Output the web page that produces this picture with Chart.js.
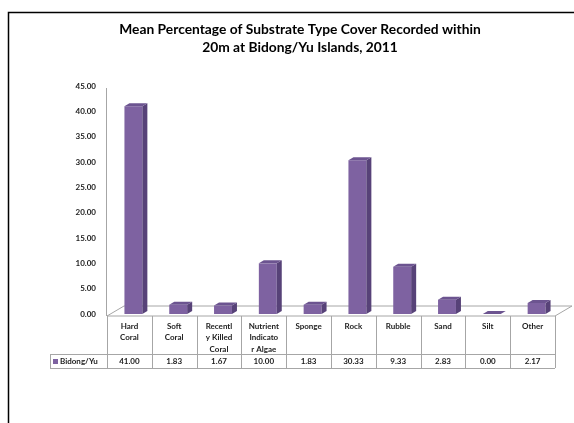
<!DOCTYPE html>
<html>
<head>
<meta charset="utf-8">
<script src="https://cdn.jsdelivr.net/npm/chart.js@4"></script>
<style>
  html, body { margin: 0; padding: 0; background: #fff; }
  #wrap { width: 574px; height: 423px; position: relative; }
</style>
</head>
<body>
<div id="wrap"><canvas id="substrateChart" width="574" height="423"></canvas></div>
<script>
// data
const categories = [
  ['Hard', 'Coral'], ['Soft', 'Coral'], ['Recentl', 'y Killed', 'Coral'],
  ['Nutrient', 'Indicato', 'r Algae'], ['Sponge'], ['Rock'], ['Rubble'],
  ['Sand'], ['Silt'], ['Other']
];
const seriesName = 'Bidong/Yu';
const values = [41.00, 1.83, 1.67, 10.00, 1.83, 30.33, 9.33, 2.83, 0.00, 2.17];
const yMin = 0;
const yMax = 45;
const yStep = 5;
const titleLines = ['Mean Percentage of Substrate Type Cover Recorded within', '20m at Bidong/Yu Islands, 2011'];

const FONT = 'Lato, "Open Sans", sans-serif';
const frontColor = '#7E62A1';
const sideColor = '#574278';
const topColor = '#6C5490';
const gridGrey = '#a6a6a6';

// depth of the fake 3d look
const depthX = 5, depthY = 3;
const tableShift = 4; // table sits at the front plane, bars a bit behind
const floorDX = 17, floorDY = 10;

// outer frame + title (title is centred on the slide, not the plot)
const framePlugin = {
  id: 'frame',
  afterDraw(chart) {
    const c = chart.ctx;
    c.save();
    c.strokeStyle = '#000';
    c.lineWidth = 1.5;
    c.beginPath();
    c.moveTo(8.5, 423);
    c.lineTo(8.5, 12.5);
    c.lineTo(574, 12.5);
    c.stroke();
    c.fillStyle = '#000';
    c.font = 'bold 13.8px ' + FONT;
    c.textAlign = 'center';
    c.textBaseline = 'middle';
    titleLines.forEach((t, i) => c.fillText(t, 300, 30 + i * 18));
    c.restore();
  }
};

// floor and axis line, drawn under the bars
const floorPlugin = {
  id: 'floor',
  beforeDatasetsDraw(chart) {
    const c = chart.ctx;
    const area = chart.chartArea;
    const y = chart.scales.y;
    const left = area.left - tableShift;
    const right = area.right - tableShift;
    const front = y.getPixelForValue(0) + 2;
    c.save();
    c.strokeStyle = gridGrey;
    c.lineWidth = 1;
    c.beginPath();
    c.moveTo(left, front);
    c.lineTo(right, front);
    c.lineTo(right + floorDX, front - floorDY);
    c.lineTo(left + floorDX, front - floorDY);
    c.closePath();
    c.fillStyle = '#fff';
    c.fill();
    c.stroke();
    // value axis line
    c.beginPath();
    c.moveTo(left - 0.5, y.getPixelForValue(yMax) + 2);
    c.lineTo(left - 0.5, front);
    c.stroke();
    c.restore();
  }
};

// side and top faces of each bar
const depthPlugin = {
  id: 'depth',
  afterDatasetsDraw(chart) {
    const c = chart.ctx;
    const meta = chart.getDatasetMeta(0);
    c.save();
    meta.data.forEach(bar => {
      const p = bar.getProps(['x', 'y', 'base', 'width'], true);
      const l = p.x - p.width / 2;
      const r = p.x + p.width / 2;
      c.fillStyle = sideColor;
      c.beginPath();
      c.moveTo(r, p.y);
      c.lineTo(r + depthX, p.y - depthY);
      c.lineTo(r + depthX, p.base - depthY);
      c.lineTo(r, p.base);
      c.closePath();
      c.fill();
      c.fillStyle = topColor;
      c.beginPath();
      c.moveTo(l, p.y);
      c.lineTo(l + depthX, p.y - depthY);
      c.lineTo(r + depthX, p.y - depthY);
      c.lineTo(r, p.y);
      c.closePath();
      c.fill();
    });
    c.restore();
  }
};

// data table under the floor
const tablePlugin = {
  id: 'dataTable',
  afterDraw(chart) {
    const c = chart.ctx;
    const area = chart.chartArea;
    const x = chart.scales.x;
    const top = chart.scales.y.getPixelForValue(0) + 2;
    const mid = top + 38;
    const bottom = mid + 14;
    const colW = (area.right - area.left) / categories.length;
    const left = area.left - tableShift;
    const legendLeft = 50;
    c.save();
    c.strokeStyle = gridGrey;
    c.lineWidth = 1;
    c.beginPath();
    for (let i = 0; i <= categories.length; i++) {
      const cx = Math.round(left + i * colW) + 0.5;
      c.moveTo(cx, top);
      c.lineTo(cx, bottom);
    }
    c.moveTo(legendLeft + 0.5, mid);
    c.lineTo(legendLeft + 0.5, bottom);
    c.moveTo(legendLeft, mid + 0.5);
    c.lineTo(area.right - tableShift, mid + 0.5);
    c.moveTo(legendLeft, bottom + 0.5);
    c.lineTo(area.right - tableShift, bottom + 0.5);
    c.stroke();

    c.fillStyle = '#222';
    c.font = 'bold 8px ' + FONT;
    c.textAlign = 'center';
    c.textBaseline = 'middle';
    categories.forEach((lines, i) => {
      const cx = x.getPixelForValue(i) - tableShift;
      lines.forEach((t, j) => c.fillText(t, cx, top + 10 + j * 11.5));
      c.fillText(values[i].toFixed(2), cx, mid + 7.5);
    });
    // legend key
    c.fillStyle = frontColor;
    c.fillRect(legendLeft + 3, mid + 5, 5, 5);
    c.fillStyle = '#222';
    c.textAlign = 'left';
    c.fillText(seriesName, legendLeft + 10, mid + 7.5);
    c.restore();
  }
};

const ctx = document.getElementById('substrateChart');

const chart = new Chart(ctx, {
  type: 'bar',
  data: {
    labels: categories.map(l => l.join(' ')),
    datasets: [{
      label: seriesName,
      data: values,
      backgroundColor: frontColor,
      borderWidth: 0,
      barPercentage: 0.8,
      categoryPercentage: 0.5
    }]
  },
  options: {
    responsive: false,
    animation: false,
    layout: { padding: { top: 86, left: 0, right: 15, bottom: 109 } },
    plugins: {
      legend: { display: false },
      tooltip: { enabled: false },
      title: { display: false }
    },
    scales: {
      x: { display: false },
      y: {
        min: yMin,
        max: yMax,
        afterFit(scale) { scale.width = 111; },
        grid: { display: false, drawTicks: false },
        border: { display: false },
        ticks: {
          stepSize: yStep,
          padding: 15,
          color: '#222',
          font: { family: FONT, size: 8, weight: 'bold' },
          callback: v => v.toFixed(2)
        }
      }
    }
  },
  plugins: [floorPlugin, depthPlugin, tablePlugin, framePlugin]
});
</script>
</body>
</html>
